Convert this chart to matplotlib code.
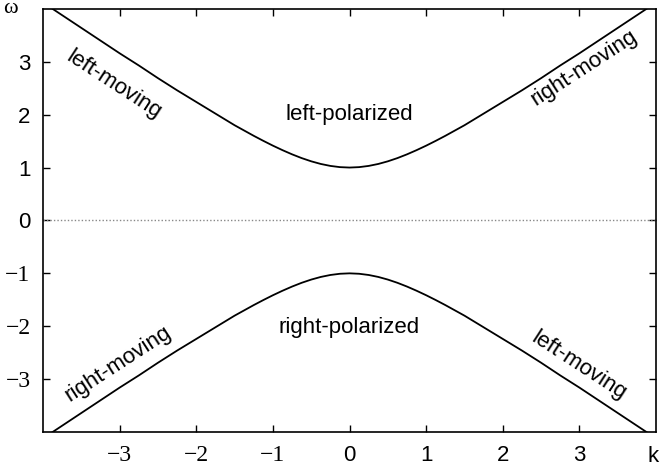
import numpy as np
import matplotlib.pyplot as plt

# dispersion branches
k = [-4.0, -3.75, -3.5, -3.25, -3.0, -2.75, -2.5, -2.25, -2.0, -1.75, -1.5,
     -1.375, -1.25, -1.125, -1.0, -0.875, -0.75, -0.625, -0.5, -0.375, -0.25,
     -0.125, 0.0, 0.125, 0.25, 0.375, 0.5, 0.625, 0.75, 0.875, 1.0, 1.125,
     1.25, 1.375, 1.5, 1.75, 2.0, 2.25, 2.5, 2.75, 3.0, 3.25, 3.5, 3.75, 4.0]
w_upper = [4.12, 3.88, 3.64, 3.40, 3.16, 2.93, 2.69, 2.46, 2.24, 2.02, 1.80,
           1.70, 1.60, 1.505, 1.414, 1.329, 1.25, 1.179, 1.118, 1.068, 1.031,
           1.008, 1.0, 1.008, 1.031, 1.068, 1.118, 1.179, 1.25, 1.329, 1.414, 1.505,
           1.60, 1.70, 1.80, 2.02, 2.24, 2.46, 2.69, 2.93, 3.16, 3.40, 3.64, 3.88, 4.12]
w_lower = [-4.12, -3.88, -3.64, -3.40, -3.16, -2.93, -2.69, -2.46, -2.24, -2.02, -1.80,
           -1.70, -1.60, -1.505, -1.414, -1.329, -1.25, -1.179, -1.118, -1.068, -1.031,
           -1.008, -1.0, -1.008, -1.031, -1.068, -1.118, -1.179, -1.25, -1.329, -1.414, -1.505,
           -1.60, -1.70, -1.80, -2.02, -2.24, -2.46, -2.69, -2.93, -3.16, -3.40, -3.64, -3.88, -4.12]

ticks = [-3, -2, -1, 0, 1, 2, 3]
tick_labels = ['\u22123', '\u22122', '\u22121', '0', '1', '2', '3']

# label text, position (k, omega), rotation
labels = [
    ('left-moving', -3.08, 2.56, -33),
    ('right-moving', 3.06, 2.88, 33),
    ('right-moving', -3.02, -2.71, 33),
    ('left-moving', 2.99, -2.75, -33),
    ('left-polarized', 0.0, 2.0, 0),
    ('right-polarized', 0.0, -2.03, 0),
]

sans = 'Liberation Sans'
serif = 'Liberation Serif'

fig = plt.figure(figsize=(6.6, 4.67), dpi=100)
ax = fig.add_axes([0.0652, 0.0749, 0.9288, 0.9061])

ax.plot(k, w_upper, color='black', lw=1.3)
ax.plot(k, w_lower, color='black', lw=1.3)
ax.axhline(0, color='#888888', lw=1.0, ls=(0, (1, 1.5)))

ax.set_xlim(-4, 4)
ax.set_ylim(-4, 4)

ax.set_xticks(ticks)
ax.set_yticks(ticks)
ax.set_xticklabels(tick_labels)
ax.set_yticklabels(tick_labels)
for lab in ax.get_xticklabels() + ax.get_yticklabels():
    if lab.get_text().startswith('\u2212'):
        lab.set_fontfamily(serif)
        lab.set_fontsize(17)
    else:
        lab.set_fontfamily(sans)
        lab.set_fontsize(16)

ax.tick_params(direction='in', length=5, width=1, top=True, right=True,
               pad=9, colors='black')
for s in ax.spines.values():
    s.set_linewidth(1.2)

ax.text(-4.42, 4.0, '\u03c9', family=serif, fontsize=16, ha='center', va='center')
ax.text(3.96, -4.47, 'k', family=sans, fontsize=16, ha='center', va='center')

for txt, x, y, rot in labels:
    ax.text(x, y, txt, family=sans, fontsize=16, rotation=rot,
            ha='center', va='center', rotation_mode='anchor')

fig.savefig('out.png', dpi=100)
